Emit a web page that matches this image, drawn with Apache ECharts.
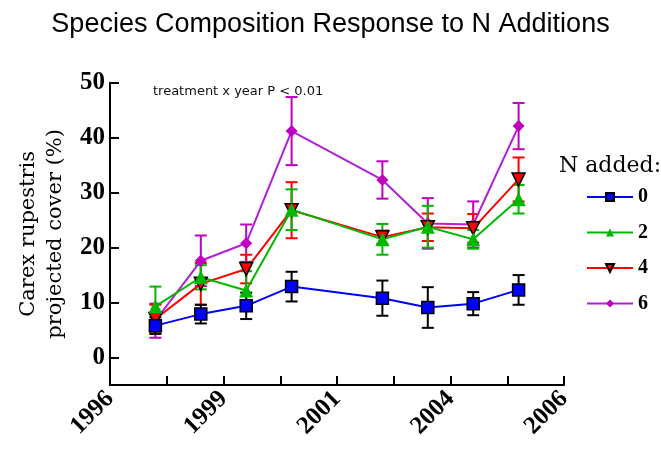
<!DOCTYPE html>
<html>
<head>
<meta charset="utf-8">
<script src="https://cdn.jsdelivr.net/npm/echarts@6/dist/echarts.min.js"></script>
<style>
  html, body { margin: 0; padding: 0; background: #fff; }
  #chart { width: 661px; height: 452px; }
</style>
</head>
<body>
<div id="chart"></div>
<script>
// sampling years and mean cover (%) with standard errors per N level
var years = [1997, 1998, 1999, 2000, 2002, 2003, 2004, 2005];
var n0 = [5.8, 7.9, 9.4, 12.9, 10.8, 9.1, 9.8, 12.3];
var se0 = [1.5, 1.7, 2.4, 2.7, 3.2, 3.7, 2.1, 2.7];
var n2 = [9.3, 14.6, 12.2, 26.9, 21.5, 23.8, 21.5, 28.8];
var se2 = [3.6, 2.2, 3.5, 3.7, 2.8, 3.8, 1.7, 2.6];
var n4 = [7.0, 13.4, 16.1, 26.8, 21.9, 23.7, 23.5, 32.4];
var se4 = [2.6, 3.8, 2.6, 5.1, 1.2, 2.5, 2.6, 4.0];
var n6 = [6.7, 17.6, 20.8, 41.2, 32.3, 24.4, 24.2, 42.1];
var se6 = [3.1, 4.6, 3.4, 6.2, 3.4, 4.6, 4.2, 4.2];
var yTicks = [0, 10, 20, 30, 40, 50];

var serif = '"DejaVu Serif", serif';
var serifNum = '"Liberation Serif", serif';

function pts(vals) {
  return years.map(function (y, i) { return [y, vals[i]]; });
}
function bars(vals, se) {
  return years.map(function (y, i) { return [y, vals[i] - se[i], vals[i] + se[i]]; });
}

// error bars drawn with the chart's own coords
function errSeries(name, vals, se, color) {
  return {
    name: name,
    type: "custom",
    z: 1,
    data: bars(vals, se),
    renderItem: function (params, api) {
      var lo = api.coord([api.value(0), api.value(1)]);
      var hi = api.coord([api.value(0), api.value(2)]);
      var w = 6;
      var st = { stroke: color, lineWidth: 2 };
      return {
        type: "group",
        children: [
          { type: "line", shape: { x1: lo[0], y1: lo[1], x2: hi[0], y2: hi[1] }, style: st },
          { type: "line", shape: { x1: lo[0] - w, y1: lo[1], x2: lo[0] + w, y2: lo[1] }, style: st },
          { type: "line", shape: { x1: hi[0] - w, y1: hi[1], x2: hi[0] + w, y2: hi[1] }, style: st }
        ]
      };
    }
  };
}

function lineSeries(name, vals, color, symbol, size, extra) {
  var s = {
    name: name,
    type: "line",
    z: 3,
    data: pts(vals),
    symbol: symbol,
    symbolSize: size,
    lineStyle: { color: color, width: 2 },
    itemStyle: { color: color }
  };
  for (var k in extra) s[k] = extra[k];
  return s;
}

var chart = echarts.init(document.getElementById("chart"));
chart.setOption({
  animation: false,
  title: [
    {
      text: "Species Composition Response to N Additions",
      left: "center",
      top: 6,
      textStyle: { fontFamily: '"Liberation Sans", sans-serif', fontSize: 27, fontWeight: "normal", color: "#000" }
    },
    {
      text: "treatment x year P < 0.01",
      left: 148,
      top: 80,
      textStyle: { fontFamily: '"DejaVu Sans", sans-serif', fontSize: 13, fontWeight: "normal", color: "#111" }
    },
    {
      text: "N added:",
      left: 554,
      top: 150,
      textStyle: { fontFamily: serif, fontSize: 22, fontWeight: "normal", color: "#000" }
    }
  ],
  legend: {
    data: ["0", "2", "4", "6"],
    orient: "vertical",
    left: 581,
    top: 182,
    itemWidth: 46,
    itemHeight: 10,
    itemGap: 15.5,
    textStyle: { fontFamily: serifNum, fontSize: 20, fontWeight: "bold", color: "#000" }
  },
  grid: { left: 110, right: 97, top: 82.7, bottom: 67 },
  xAxis: {
    type: "value",
    min: 1996,
    max: 2006,
    interval: 1.25,
    splitLine: { show: false },
    axisLine: { onZero: false, lineStyle: { color: "#000", width: 2 } },
    axisTick: { inside: true, length: 9, lineStyle: { color: "#000", width: 2 } },
    axisLabel: {
      rotate: 45,
      margin: 10,
      color: "#000",
      fontFamily: serifNum,
      fontSize: 25,
      fontWeight: "bold",
      formatter: function (v) {
        var k = (v - 1996) / 2.5;
        return Math.abs(k - Math.round(k)) < 1e-6 ? String(Math.round(v)) : "";
      }
    }
  },
  yAxis: {
    type: "value",
    min: -5,
    max: 50,
    splitLine: { show: false },
    axisLine: { onZero: false, lineStyle: { color: "#000", width: 2 } },
    axisTick: { inside: true, length: 9, customValues: yTicks, lineStyle: { color: "#000", width: 2 } },
    axisLabel: { customValues: yTicks, margin: 5, color: "#000", fontFamily: serifNum, fontSize: 25, fontWeight: "bold" },
    name: "Carex rupestris\nprojected cover (%)",
    nameLocation: "middle",
    nameGap: 40,
    nameTextStyle: { fontFamily: serif, fontSize: 21, color: "#000", lineHeight: 27 }
  },
  series: [
    errSeries("e6", n6, se6, "#c000c0"),
    errSeries("e4", n4, se4, "#ff0000"),
    errSeries("e2", n2, se2, "#00b800"),
    errSeries("e0", n0, se0, "#000"),
    lineSeries("6", n6, "#b020d8", "diamond", 12, { itemStyle: { color: "#c000c0" } }),
    lineSeries("4", n4, "#ff0000", "triangle", 13, { symbolRotate: 180, itemStyle: { color: "#ff0000", borderColor: "#000", borderWidth: 1.5 } }),
    lineSeries("2", n2, "#00b800", "triangle", 14, {}),
    lineSeries("0", n0, "#0000ff", "rect", 12, { itemStyle: { color: "#0000ff", borderColor: "#000", borderWidth: 1.5 } })
  ]
});
</script>
</body>
</html>
